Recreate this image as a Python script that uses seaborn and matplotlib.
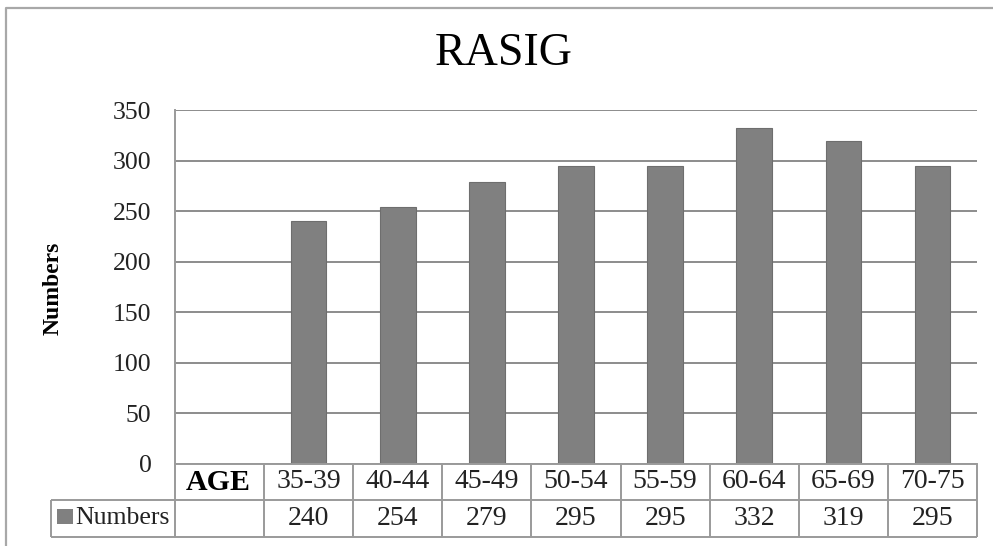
import pandas as pd
import seaborn as sns
import matplotlib.pyplot as plt
import matplotlib.transforms as mtransforms
from matplotlib.lines import Line2D
from matplotlib.patches import Rectangle

# Chart content
title = "RASIG"
table_header = "AGE"
age_groups = ["35-39", "40-44", "45-49", "50-54", "55-59", "60-64", "65-69", "70-75"]
numbers = [240, 254, 279, 295, 295, 332, 319, 295]
series_name = "Numbers"
y_label = "Numbers"
y_ticks = [0, 50, 100, 150, 200, 250, 300, 350]

sns.set_theme(style="white")
plt.rcParams["font.family"] = ["Liberation Serif", "DejaVu Serif"]

W, H = 993, 546
fig = plt.figure(figsize=(W / 100, H / 100), dpi=100)
fig.patch.set_facecolor("white")

# plot area (pixels)
L, R, T, B = 175, 977, 110, 464
ax = fig.add_axes([L / W, 1 - B / H, (R - L) / W, (B - T) / H])

bar_color = "#808080"
line_color = "#9a9a9a"

df = pd.DataFrame({"age": age_groups, "n": numbers})
order = [table_header] + age_groups
sns.barplot(data=df, x="age", y="n", order=order, color=bar_color,
            saturation=1, width=0.4, edgecolor="#6e6e6e", linewidth=0.8, ax=ax)

ax.set_xlim(-0.5, len(order) - 0.5)
ax.set_ylim(0, 350)
ax.set_yticks(y_ticks)
ax.set_xticks([])
ax.set_xlabel("")
ax.set_ylabel("")
ax.yaxis.grid(True, color="#8c8c8c", linewidth=1.4)
ax.set_axisbelow(True)
ax.tick_params(axis="y", length=0, pad=17, labelsize=18.5, labelcolor="#222222")
for side in ("top", "right"):
    ax.spines[side].set_visible(False)
for side in ("left", "bottom"):
    ax.spines[side].set_color(line_color)
    ax.spines[side].set_linewidth(1.4)

# Data table under the axis
col_px = (R - L) / len(order)
tr = mtransforms.blended_transform_factory(ax.transData, ax.transAxes)
h_px = B - T
row1_bot = -(500 - B) / h_px
row2_bot = -(537 - B) / h_px
row1_mid = row1_bot / 2
row2_mid = (row1_bot + row2_bot) / 2
legend_left = -0.5 - (L - 51) / col_px
x_right = len(order) - 0.5

def seg(xs, ys):
    ax.add_line(Line2D(xs, ys, transform=tr, color=line_color, lw=1.4,
                       clip_on=False, solid_capstyle="butt"))

seg([legend_left, x_right], [row1_bot, row1_bot])
seg([legend_left, x_right], [row2_bot, row2_bot])
seg([legend_left, legend_left], [row1_bot, row2_bot])
for k in range(len(order) + 1):
    seg([k - 0.5, k - 0.5], [0, row2_bot])

ax.text(-0.02, row1_mid, table_header, transform=tr, ha="center", va="center",
        fontsize=21.5, fontweight="bold", color="black")
for i, (lab, val) in enumerate(zip(age_groups, numbers), start=1):
    ax.text(i, row1_mid, lab, transform=tr, ha="center", va="center",
            fontsize=20, color="#222222")
    ax.text(i, row2_mid, str(val), transform=tr, ha="center", va="center",
            fontsize=20, color="#222222")

# legend key inside the table
sq_x = -0.5 - (L - 57) / col_px
sq_w = 16 / col_px
ax.add_patch(Rectangle((sq_x, -(524 - B) / h_px), sq_w, 15 / h_px, transform=tr,
                       facecolor=bar_color, edgecolor="none", clip_on=False))
ax.text(-0.5 - (L - 75) / col_px, row2_mid, series_name, transform=tr,
        ha="left", va="center", fontsize=18.5, color="#222222")

# title and axis label
fig.text(504 / W, 1 - 54 / H, title, ha="center", va="center", fontsize=33,
         color="black")
fig.text(53 / W, 1 - 288 / H, y_label, ha="center", va="center", rotation=90,
         fontsize=17, fontweight="bold", color="black")

# chart border
fig.add_artist(Line2D([6 / W, 6 / W, 1.0], [0.0, 1 - 8 / H, 1 - 8 / H],
                      transform=fig.transFigure, color="#a8a8a8", lw=1.6))

fig.savefig("out.png", dpi=100, facecolor="white")
